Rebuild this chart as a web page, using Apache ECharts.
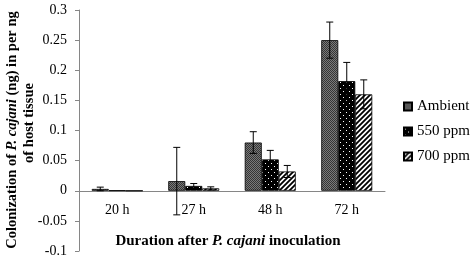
<!DOCTYPE html>
<html>
<head>
<meta charset="utf-8">
<script src="https://cdn.jsdelivr.net/npm/echarts@6/dist/echarts.min.js"></script>
<style>
  html, body { margin: 0; padding: 0; background: #fff; }
  #chart { width: 472px; height: 259px; }
</style>
</head>
<body>
<div id="chart"></div>
<script>
const categories = ['20 h', '27 h', '48 h', '72 h'];
const seriesNames = ['Ambient', '550 ppm', '700 ppm'];
const ambient = [0.003, 0.016, 0.08, 0.25];
const ppm550 = [0.0005, 0.008, 0.052, 0.182];
const ppm700 = [0, 0.004, 0.032, 0.16];
const ambientErr = [0.003, 0.056, 0.018, 0.03];
const ppm550Err = [0, 0.004, 0.015, 0.031];
const ppm700Err = [0, 0.0025, 0.01, 0.024];
const yMin = -0.1, yMax = 0.3, yStep = 0.05;

const BAR_W = 17;

// fill patterns like the excel ones
function pattern(kind) {
  const c = document.createElement('canvas');
  const ctx = c.getContext('2d');
  if (kind === 'ambient') {
    c.width = 2; c.height = 2;
    ctx.fillStyle = '#353535'; ctx.fillRect(0, 0, 2, 2);
    ctx.fillStyle = '#7a7a7a'; ctx.fillRect(1, 0, 1, 1); ctx.fillRect(0, 1, 1, 1);
  } else if (kind === 'dots') {
    c.width = 6; c.height = 6;
    ctx.fillStyle = '#000'; ctx.fillRect(0, 0, 6, 6);
    ctx.fillStyle = '#fff'; ctx.fillRect(1, 1, 1, 1); ctx.fillRect(4, 4, 1, 1);
  } else {
    c.width = 5; c.height = 5;
    ctx.fillStyle = '#fff'; ctx.fillRect(0, 0, 5, 5);
    ctx.strokeStyle = '#000'; ctx.lineWidth = 1.8;
    ctx.beginPath();
    ctx.moveTo(-1, 6); ctx.lineTo(6, -1);
    ctx.moveTo(-1, 1); ctx.lineTo(1, -1);
    ctx.moveTo(4, 6); ctx.lineTo(6, 4);
    ctx.stroke();
  }
  return { image: c, repeat: 'repeat' };
}

const fills = [pattern('ambient'), pattern('dots'), pattern('stripes')];
const values = [ambient, ppm550, ppm700];
const errs = [ambientErr, ppm550Err, ppm700Err];

const errData = [];
for (let s = 0; s < 3; s++) {
  for (let i = 0; i < categories.length; i++) {
    if (errs[s][i] > 0) errData.push([i, values[s][i], errs[s][i], s]);
  }
}

const chart = echarts.init(document.getElementById('chart'));
const serif = 'Liberation Serif';
const titleRich = {
  b: { fontFamily: serif, fontWeight: 'bold', fontSize: 14.5, fill: '#000' },
  bi: { fontFamily: serif, fontWeight: 'bold', fontStyle: 'italic', fontSize: 14.5, fill: '#000' }
};

const option = {
  animation: false,
  grid: { left: 79, right: 87, top: 10, bottom: 8 },
  legend: {
    orient: 'vertical',
    left: 403,
    top: 99,
    padding: 0,
    itemWidth: 8,
    itemHeight: 8,
    itemGap: 10,
    icon: 'rect',
    data: seriesNames,
    textStyle: { fontFamily: serif, fontSize: 15, color: '#000' }
  },
  xAxis: {
    type: 'category',
    data: categories,
    offset: -60,
    axisLine: { onZero: false, lineStyle: { color: '#868686' } },
    axisTick: { length: 4, lineStyle: { color: '#868686' } },
    axisLabel: { margin: 12, fontFamily: serif, fontSize: 14, color: '#000' }
  },
  yAxis: {
    type: 'value',
    min: yMin,
    max: yMax,
    interval: yStep,
    splitLine: { show: false },
    axisLine: { show: true, lineStyle: { color: '#868686' } },
    axisTick: { show: true, length: 4, lineStyle: { color: '#868686' } },
    axisLabel: { margin: 12, fontFamily: serif, fontSize: 14, color: '#000' }
  },
  graphic: [
    {
      type: 'text', x: 12, y: 130, rotation: Math.PI / 2,
      style: {
        text: '{b|Colonization of }{bi|P. cajani}{b| (ng) in per ng}',
        align: 'center', verticalAlign: 'middle',
        rich: titleRich
      }
    },
    {
      type: 'text', x: 29, y: 123, rotation: Math.PI / 2,
      style: {
        text: '{b|of host tissue}', align: 'center', verticalAlign: 'middle',
        rich: titleRich
      }
    },
    {
      type: 'text', x: 228, y: 241,
      style: {
        text: '{b|Duration after }{bi|P. cajani}{b| inoculation}',
        align: 'center', verticalAlign: 'middle',
        rich: {
          b: { fontFamily: serif, fontWeight: 'bold', fontSize: 15, fill: '#000' },
          bi: { fontFamily: serif, fontWeight: 'bold', fontStyle: 'italic', fontSize: 15, fill: '#000' }
        }
      }
    }
  ],
  series: [
    ...seriesNames.map((name, s) => ({
      name: name,
      type: 'bar',
      barWidth: BAR_W,
      barGap: '0%',
      data: values[s],
      itemStyle: { color: fills[s], borderColor: '#000', borderWidth: 0.8 }
    })),
    {
      type: 'custom',
      z: 5,
      data: errData,
      renderItem: function (params, api) {
        const i = api.value(0), v = api.value(1), e = api.value(2), s = api.value(3);
        const dx = (s - 1) * BAR_W;
        const top = api.coord([i, v + e]);
        const bot = api.coord([i, v - e]);
        const x = top[0] + dx;
        const cap = 3.5;
        const st = { stroke: '#000', lineWidth: 1 };
        return {
          type: 'group',
          children: [
            { type: 'line', shape: { x1: x, y1: top[1], x2: x, y2: bot[1] }, style: st },
            { type: 'line', shape: { x1: x - cap, y1: top[1], x2: x + cap, y2: top[1] }, style: st },
            { type: 'line', shape: { x1: x - cap, y1: bot[1], x2: x + cap, y2: bot[1] }, style: st }
          ]
        };
      }
    }
  ]
};

chart.setOption(option);
</script>
</body>
</html>
